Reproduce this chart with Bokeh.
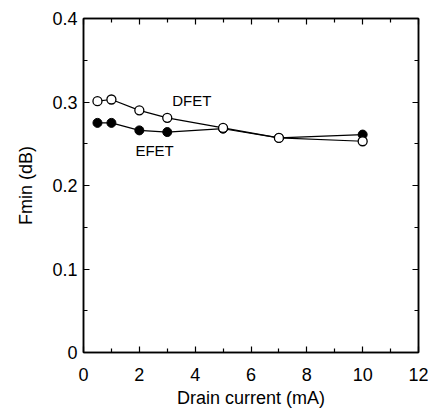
from bokeh.plotting import figure
from bokeh.models import LinearAxis, FixedTicker, Range1d, Label
from bokeh.embed import file_html
from bokeh.resources import INLINE

# Data
current_ma = [0.5, 1, 2, 3, 5, 7, 10]
dfet_fmin = [0.301, 0.303, 0.290, 0.281, 0.269, 0.257, 0.253]
efet_fmin = [0.275, 0.275, 0.266, 0.264, 0.268, 0.257, 0.261]
x_ticks = [0, 2, 4, 6, 8, 10, 12]
x_minor = [1, 3, 5, 7, 9, 11]
y_ticks = [0, 0.1, 0.2, 0.3, 0.4]
y_minor = [0.05, 0.15, 0.25, 0.35]
y_labels = {0: "0", 0.1: "0.1", 0.2: "0.2", 0.3: "0.3", 0.4: "0.4"}

FONT = "Liberation Sans"

p = figure(width=428, height=410, output_backend="svg", toolbar_location=None,
           x_range=Range1d(0, 12), y_range=Range1d(0, 0.4),
           min_border_left=83, min_border_top=18, min_border_right=10,
           min_border_bottom=57, x_axis_label="Drain current (mA)",
           y_axis_label="Fmin (dB)")
p.xgrid.visible = False
p.ygrid.visible = False
p.outline_line_color = "black"
p.outline_line_width = 1.5
p.background_fill_color = "white"
p.border_fill_color = "white"

def style(ax, ticks, minor, labels=True):
    ax.ticker = FixedTicker(ticks=ticks, minor_ticks=minor)
    ax.axis_line_color = "black"
    ax.axis_line_width = 1.5
    ax.major_tick_in = 6
    ax.major_tick_out = 0
    ax.minor_tick_in = 4
    ax.minor_tick_out = 0
    ax.major_tick_line_color = "black"
    ax.minor_tick_line_color = "black"
    ax.major_tick_line_width = 1.2
    ax.minor_tick_line_width = 1.2
    ax.major_label_text_font = FONT
    ax.major_label_text_font_size = "18px"
    ax.major_label_text_color = "black"
    ax.axis_label_text_font = FONT
    ax.axis_label_text_font_size = "18px"
    ax.axis_label_text_font_style = "normal"
    ax.axis_label_text_color = "black"
    if not labels:
        ax.major_label_overrides = {t: "" for t in ticks}
        ax.major_label_standoff = 0

xa = p.xaxis[0]
style(xa, x_ticks, x_minor)
xa.major_label_standoff = 15
xa.axis_label_standoff = 4

ya = p.yaxis[0]
style(ya, y_ticks, y_minor)
ya.major_label_overrides = y_labels
ya.major_label_standoff = 6
ya.axis_label_standoff = 13

top = LinearAxis()
style(top, x_ticks, x_minor, labels=False)
p.add_layout(top, "above")
right = LinearAxis()
style(right, y_ticks, y_minor, labels=False)
p.add_layout(right, "right")

p.line(current_ma, efet_fmin, line_color="black", line_width=1.2)
p.line(current_ma, dfet_fmin, line_color="black", line_width=1.2)
p.scatter(current_ma, efet_fmin, size=9, fill_color="black", line_color="black")
p.scatter(current_ma, dfet_fmin, size=9, fill_color="white", line_color="black", line_width=1.3)

p.add_layout(Label(x=3.18, y=0.302, text="DFET", text_font=FONT, text_font_size="15px",
                   text_baseline="middle", text_color="black"))
p.add_layout(Label(x=1.86, y=0.242, text="EFET", text_font=FONT, text_font_size="15px",
                   text_baseline="middle", text_color="black"))

open("out.html", "w").write(file_html(p, INLINE))
